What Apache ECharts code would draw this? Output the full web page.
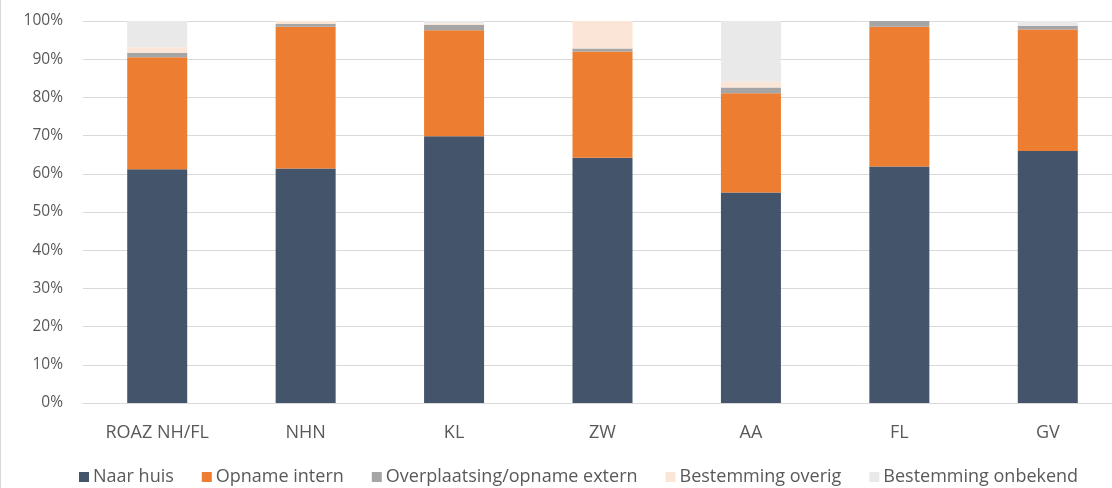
<!DOCTYPE html>
<html>
<head>
<meta charset="utf-8">
<script src="https://cdn.jsdelivr.net/npm/echarts@6/dist/echarts.min.js"></script>
<style>
html,body{margin:0;padding:0;background:#fff;overflow:hidden;width:1112px;height:488px;}
#c{width:1130px;height:488px;box-sizing:border-box;border-left:1px solid #d9d9d9;}
</style>
</head>
<body>
<div id="c"></div>
<script>
const categories = ['ROAZ NH/FL','NHN','KL','ZW','AA','FL','GV'];
const seriesNames = ['Naar huis','Opname intern','Overplaatsing/opname extern','Bestemming overig','Bestemming onbekend'];
const naarHuis      = [61.2, 61.4, 69.8, 64.2, 55.1, 61.9, 66.0];
const opnameIntern  = [29.3, 37.1, 27.8, 27.8, 26.0, 36.6, 31.8];
const overplaatsing = [1.2, 0.7, 1.4, 0.8, 1.5, 1.5, 0.9];
const overig        = [1.4, 0.8, 0.4, 7.2, 1.5, 0.0, 0.0];
const onbekend      = [6.9, 0.0, 0.6, 0.0, 15.9, 0.0, 1.3];
const yTicks = [0,10,20,30,40,50,60,70,80,90,100];

const colors = ['#44546A','#ED7D31','#A5A5A5','#FBE5D6','#E9E9E9'];
const values = [naarHuis, opnameIntern, overplaatsing, overig, onbekend];
const font = 'Open Sans';

const chart = echarts.init(document.getElementById('c'));
chart.setOption({
  animation:false,
  color: colors,
  grid:{left:82, right:8, top:21, bottom:85, containLabel:false},
  legend:{
    top:463, left:73,
    itemWidth:10, itemHeight:10, itemGap:28,
    icon:'rect',
    textStyle:{color:'#595959', fontSize:18, fontFamily:font, padding:[0,0,0,-1]},
    data: seriesNames
  },
  xAxis:{
    type:'category', data:categories,
    axisLine:{lineStyle:{color:'#D9D9D9', width:1}},
    axisTick:{show:false},
    axisLabel:{color:'#595959', fontSize:18, fontFamily:font, margin:21}
  },
  yAxis:{
    type:'value', min:0, max:100, interval:10,
    axisLabel:{formatter: v => yTicks.includes(v) ? v + '%' : '', color:'#595959', fontSize:15.5, fontFamily:font, margin:20},
    splitLine:{lineStyle:{color:'#D9D9D9', width:1}},
    axisLine:{show:false}, axisTick:{show:false}
  },
  series: seriesNames.map((n,i)=>({
    name:n, type:'bar', stack:'total', barWidth:60,
    data: values[i],
    itemStyle:{color:colors[i]}
  }))
});
</script>
</body>
</html>
